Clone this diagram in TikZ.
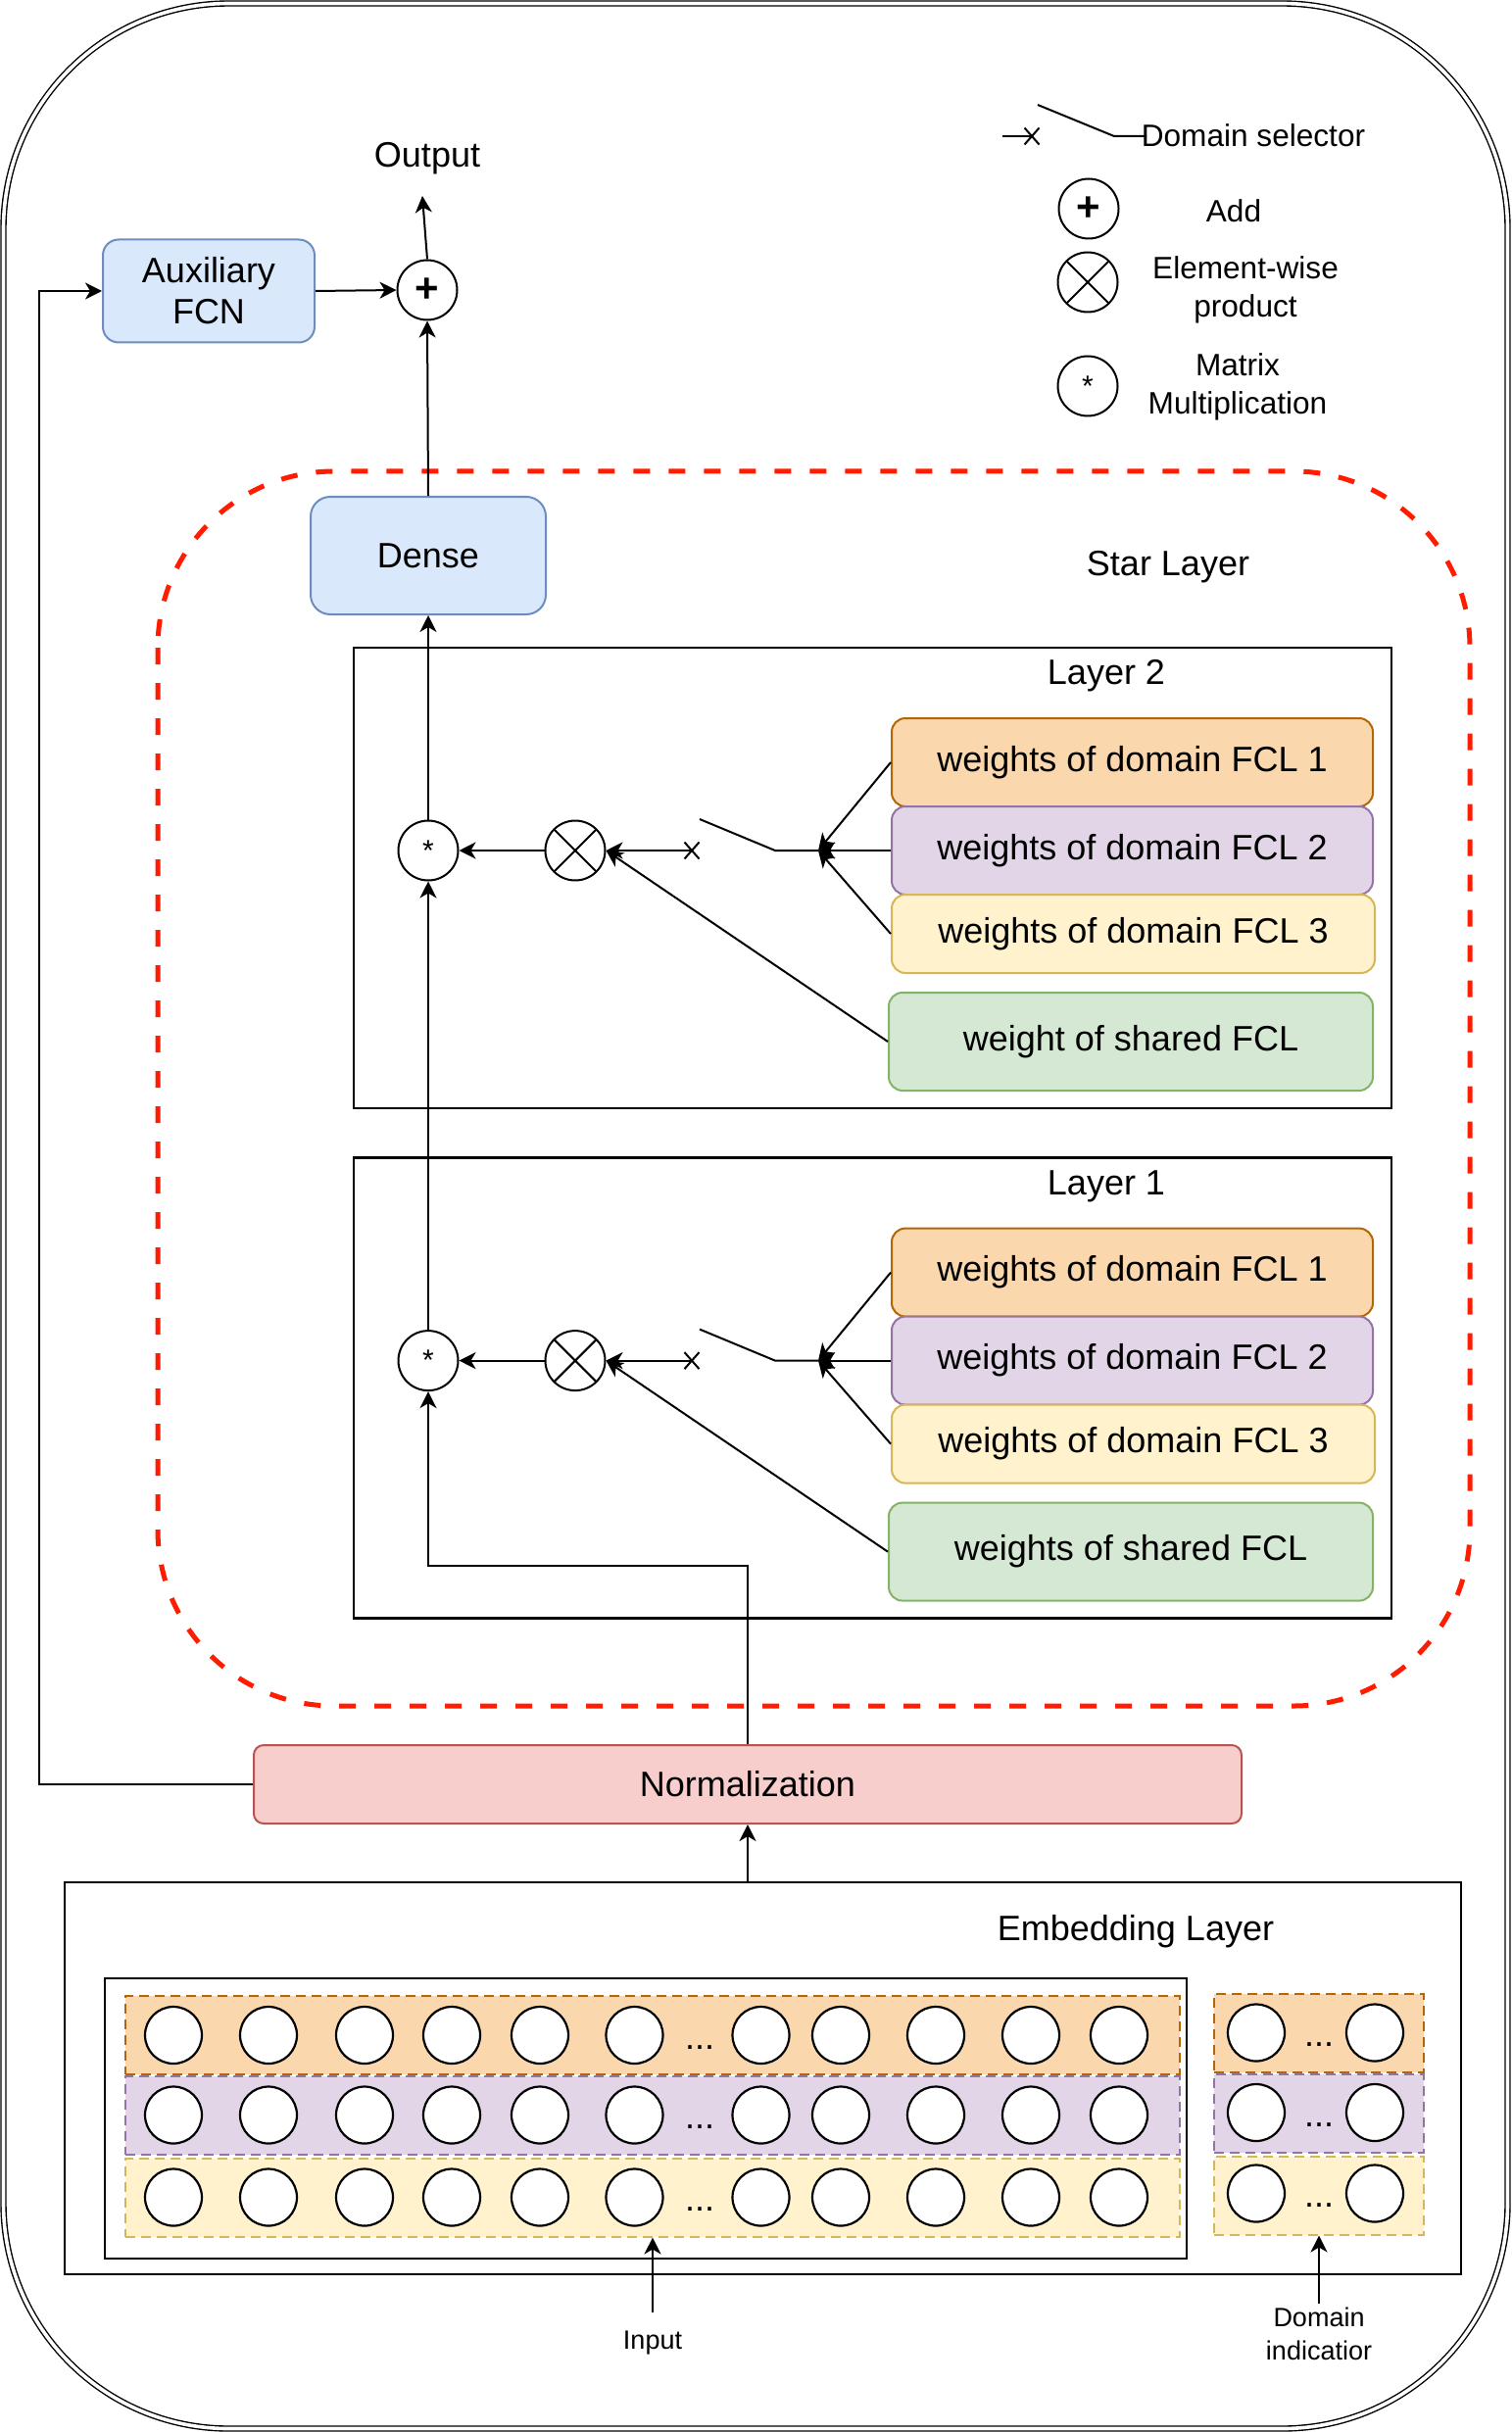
\documentclass[tikz,border=0pt]{standalone}
\usepackage{fontspec}
\setmainfont{Liberation Sans}
\usetikzlibrary{arrows.meta, positioning, calc}
\definecolor{blueFill}{HTML}{DAE8FC}
\definecolor{blueLine}{HTML}{6C8EBF}
\definecolor{orangeFill}{HTML}{FAD7AC}
\definecolor{orangeLine}{HTML}{B46504}
\definecolor{purpleFill}{HTML}{E1D5E7}
\definecolor{purpleLine}{HTML}{9673A6}
\definecolor{yellowFill}{HTML}{FFF2CC}
\definecolor{yellowLine}{HTML}{D6B656}
\definecolor{greenFill}{HTML}{D5E8D4}
\definecolor{greenLine}{HTML}{82B366}
\definecolor{redFill}{HTML}{F8CECC}
\definecolor{redLine}{HTML}{B85450}
\definecolor{starRed}{RGB}{255,28,0}
\newcommand{\fmain}{\fontsize{18}{21}\selectfont}
\newcommand{\flegend}{\fontsize{15.8}{19.5}\selectfont}
\newcommand{\fsmall}{\fontsize{13.5}{17}\selectfont}

\begin{document}
\begin{tikzpicture}[x=0.5pt, y=-0.5pt, line width=1pt,
  box/.style={draw, rounded corners=7pt, align=center, font=\fmain, inner sep=0pt},
  frame/.style={draw, line width=1.2pt, inner sep=0pt},
  op/.style={circle, draw, minimum size=30.5pt, inner sep=0pt},
  ewop/.style={op, path picture={
      \draw (path picture bounding box.north west) -- (path picture bounding box.south east);
      \draw (path picture bounding box.north east) -- (path picture bounding box.south west);}},
  mmop/.style={op, font=\fontsize{15}{15}\selectfont},
  addop/.style={op, font=\fontsize{21}{21}\selectfont\bfseries},
  unit/.style={circle, draw, fill=white, minimum size=29pt, inner sep=0pt, line width=1.1pt},
  row/.style={draw, dash pattern=on 5pt off 3pt, minimum height=40pt, inner sep=0pt},
  arr/.style={-{Stealth[length=8.5pt,width=8.5pt,inset=2.5pt]}}]
  \useasboundingbox (0,0) rectangle (1542,2482);

  \draw[double, double distance=1.8pt, line width=0.7pt, rounded corners=115pt] (3.5,3.5) rectangle (1538.5,2478.5);
  \draw[starRed, line width=2.5pt, dash pattern=on 8.5pt off 9.5pt, rounded corners=90pt] (161,481) rectangle (1500,1741);

  % legend
  \coordinate (lgSel) at (1053,139);
  \coordinate (lgPiv) at (1137,139);
  \draw ($(lgSel)+(-30,0)$) -- (lgSel);
  \draw (lgSel) ++(-7.5,-8.5) -- ++(15,17) (lgSel) ++(-7.5,8.5) -- ++(15,-17);
  \draw ($(lgPiv)+(-78,-32)$) -- (lgPiv) -- ++(33,0);
  \node[font=\flegend] (lgSelTxt) at (1279,138) {Domain selector};
  \node[addop] (lgAdd) at (1111,213) {+};
  \node[font=\flegend] (lgAddTxt) at (1259,215) {Add};
  \node[ewop] (lgEw) at (1110,288) {};
  \node[font=\flegend, align=center] (lgEwTxt) at (1271,295.5) {Element-wise\\product};
  \node[mmop] (lgMm) at (1110,394) {*};
  \node[font=\flegend, align=center] (lgMmTxt) at (1263,395) {Matrix\\Multiplication};

  % top
  \node[box, fill=blueFill, draw=blueLine, minimum width=108pt, minimum height=52.5pt, rounded corners=8pt] (aux) at (213,297) {Auxiliary\\FCN};
  \node[addop] (add) at (436,296) {+};
  \node[font=\fmain] (output) at (436,162) {Output};
  \coordinate (outTip) at (431,200);
  \node[box, fill=blueFill, draw=blueLine, minimum width=120pt, minimum height=60pt, rounded corners=10pt] (dense) at (437,567) {Dense};
  \node[font=\fmain] (starTxt) at (1192,579) {Star Layer};

  \foreach \k/\dy/\sh in {2/0/weight, 1/520.6/weights}{
    \node[frame, minimum width=529.5pt, minimum height=235pt] (layer\k) at (890.5,896+\dy) {};
    \node[font=\fmain] (layerTxt\k) at (1129,690+\dy) {Layer \k};
    \node[box, fill=orangeFill, draw=orangeLine, minimum width=245.5pt, minimum height=45pt] (fclA\k) at (1155.5,778+\dy) {weights of domain FCL 1};
    \node[box, fill=purpleFill, draw=purpleLine, minimum width=245.5pt, minimum height=45pt] (fclB\k) at (1155.5,868+\dy) {weights of domain FCL 2};
    \node[box, fill=yellowFill, draw=yellowLine, minimum width=246.5pt, minimum height=40pt] (fclC\k) at (1156.5,953+\dy) {weights of domain FCL 3};
    \node[box, fill=greenFill, draw=greenLine, minimum width=247pt, minimum height=50pt] (shared\k) at (1154,1063+\dy) {\sh\ of shared FCL};
    \node[mmop] (mm\k) at (437,868+\dy) {*};
    \node[ewop] (ew\k) at (587,868+\dy) {};
    \coordinate (sel\k) at (706,868+\dy);
    \coordinate (piv\k) at (791,868+\dy);
    \coordinate (junc\k) at (835,868+\dy);
    \draw (sel\k) ++(-7.5,-8.5) -- ++(15,17) (sel\k) ++(-7.5,8.5) -- ++(15,-17);
    \draw ($(piv\k)+(-77,-32)$) -- (piv\k) -- (junc\k);
    \draw[arr] (fclA\k.west) -- (junc\k);
    \draw[arr] (fclB\k.west) -- (junc\k);
    \draw[arr] (fclC\k.west) -- (junc\k);
    \draw[arr] (sel\k) -- (ew\k.east);
    \draw[arr] (shared\k.west) -- (ew\k.east);
    \draw[arr] (ew\k.west) -- (mm\k.east);
  }

  % bottom
  \node[box, fill=redFill, draw=redLine, minimum width=504pt, minimum height=40pt, rounded corners=5pt] (norm) at (763,1821) {Normalization};
  \node[frame, minimum width=712.5pt, minimum height=200pt] (embed) at (778.5,2121) {};
  \node[font=\fmain] (embTxt) at (1159,1971) {Embedding Layer};
  \node[frame, minimum width=552pt, minimum height=143pt] (embInner) at (659,2162) {};
  \node[row, fill=orangeFill, draw=orangeLine, minimum width=538pt] (rowA) at (666,2077) {};
  \node[row, fill=purpleFill, draw=purpleLine, minimum width=538pt] (rowB) at (666,2158.5) {};
  \node[row, fill=yellowFill, draw=yellowLine, minimum width=538pt] (rowC) at (666,2242.5) {};
  \node[row, fill=orangeFill, draw=orangeLine, minimum width=107pt] (drowA) at (1346,2075) {};
  \node[row, fill=purpleFill, draw=purpleLine, minimum width=107pt] (drowB) at (1346,2157) {};
  \node[row, fill=yellowFill, draw=yellowLine, minimum width=107pt] (drowC) at (1346,2240.5) {};
  \foreach \cy [count=\j] in {2077,2158.5,2242.5}{
    \foreach \cx [count=\i] in {177,274,372,461,551,647.5,776.5,858,955,1052,1142}
      \node[unit] (u\j-\i) at (\cx,\cy) {};
    \node[font=\fmain, anchor=base] (dots\j) at (714,\cy+14) {...};
  }
  \foreach \cy [count=\j] in {2074.5,2156,2238.5}{
    \node[unit] (d\j-1) at (1282,\cy) {};
    \node[unit] (d\j-2) at (1403,\cy) {};
    \node[font=\fmain, anchor=base] (ddots\j) at (1346,\cy+14) {...};
  }
  \node[font=\fsmall] (inTxt) at (666,2391) {Input};
  \node[font=\fsmall, align=center] (diTxt) at (1346,2382) {Domain\\indicatior};
  \coordinate (inTail) at (666,2360);
  \coordinate (diTail) at (1346,2351);

  % connectors
  \draw[arr] (add.north) -- (outTip);
  \draw[arr] (aux.east) -- (add.west);
  \draw[arr] (dense.north) -- (add.south);
  \draw[arr] (mm2.north) -- (dense.south);
  \draw[arr] (mm1.north) -- (mm2.south);
  \draw[arr] (norm.north) -- ++(0,-182) -| (mm1.south);
  \draw[arr] (norm.west) -- ++(-218,0) |- (aux.west);
  \draw[arr] (norm.south |- embed.north) -- (norm.south);
  \draw[arr] (inTail) -- (inTail |- rowC.south);
  \draw[arr] (diTail) -- (diTail |- drowC.south);
\end{tikzpicture}
\end{document}
